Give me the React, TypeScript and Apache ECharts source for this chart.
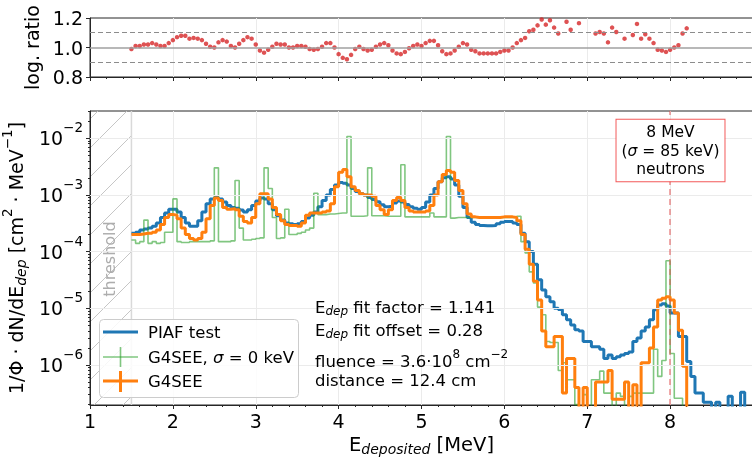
import React, { useEffect, useRef } from "react";
import * as echarts from "echarts";

// ---------- data ----------
const BIN_START = 1.5; // MeV, left edge of first bin (= threshold)
const BIN_WIDTH = 0.05; // MeV
const THRESHOLD = [1.0, 1.5];
const BEAM_ENERGY = 8;
const X_TICKS = [1, 2, 3, 4, 5, 6, 7, 8];
const Y_DECADES = [-6, -5, -4, -3, -2];
const Y_RANGE = [-6.705, -1.52]; // log10 of 1.97e-7 .. 3.0e-2
const RATIO_LINES = [0.9, 1.0, 1.1];

const piafTest = [
  2.1e-4, 2.2e-4, 2.4e-4, 2.5e-4, 2.6e-4, 2.8e-4, 3.2e-4, 4.0e-4, 4.8e-4, 5.6e-4,
  5.6e-4, 5.0e-4, 4.0e-4, 3.2e-4, 2.8e-4, 2.8e-4, 3.5e-4, 5.0e-4, 7.0e-4, 8.5e-4,
  9.0e-4, 8.5e-4, 7.5e-4, 6.5e-4, 6.0e-4, 5.8e-4, 5.4e-4, 5.0e-4, 5.5e-4, 6.5e-4,
  7.8e-4, 8.8e-4, 8.5e-4, 7.0e-4, 5.5e-4, 4.3e-4, 3.6e-4, 3.2e-4, 3.1e-4, 3.0e-4,
  3.1e-4, 3.4e-4, 3.9e-4, 4.4e-4, 5.0e-4, 6.2e-4, 8.0e-4, 1.0e-3, 1.25e-3, 1.5e-3,
  1.65e-3, 1.6e-3, 1.5e-3, 1.3e-3, 1.15e-3, 1.05e-3, 1.0e-3, 9.0e-4, 8.3e-4, 7.6e-4,
  6.7e-4, 6.2e-4, 6.3e-4, 7.2e-4, 7.8e-4, 7.5e-4, 6.8e-4, 6.2e-4, 5.8e-4, 5.6e-4,
  6.0e-4, 7.5e-4, 1.0e-3, 1.3e-3, 1.7e-3, 2.0e-3, 2.1e-3, 1.9e-3, 1.5e-3, 9.5e-4,
  6.0e-4, 4.0e-4, 3.3e-4, 3.0e-4, 2.9e-4, 2.85e-4, 2.85e-4, 2.9e-4, 3.1e-4, 3.3e-4,
  3.4e-4, 3.4e-4, 3.2e-4, 3.0e-4, 2.1e-4, 1.5e-4, 1.0e-4, 6.0e-5, 3.2e-5, 2.1e-5,
  1.6e-5, 1.3e-5, 1.0e-5, 9.5e-6, 7.7e-6, 6.3e-6, 5.1e-6, 4.2e-6, 4.0e-6, 2.6e-6,
  2.6e-6, 2.1e-6, 2.1e-6, 1.9e-6, 1.3e-6, 1.5e-6, 1.3e-6, 1.4e-6, 1.5e-6, 1.6e-6,
  1.7e-6, 2.6e-6, 3.0e-6, 4.0e-6, 4.7e-6, 6.3e-6, 9.4e-6, 1.15e-5, 1.2e-5, 1.1e-5,
  8.3e-6, 8.3e-6, 3.2e-6, 3.2e-6, 1.15e-6, 6.3e-7, 3.2e-7, 3.2e-7, 2.2e-7, 2.2e-7,
  0, 2.2e-7, 0, 0, 2.8e-7, 0, 0, 3.3e-7, 0, 0,
];

const g4seeSigma0 = [
  1.6e-4, 1.4e-4, 1.5e-4, 3.6e-4, 1.4e-4, 1.5e-4, 1.4e-4, 1.45e-4, 2.2e-4, 2.2e-4,
  8.5e-4, 1.5e-4, 1.45e-4, 1.45e-4, 1.5e-4, 1.5e-4, 1.5e-4, 1.5e-4, 1.5e-4, 1.55e-4,
  3.0e-3, 1.5e-4, 1.5e-4, 1.5e-4, 1.55e-4, 1.8e-3, 2.6e-4, 1.6e-4, 1.6e-4, 1.65e-4,
  1.7e-4, 1.75e-4, 3.0e-3, 1.3e-3, 4.0e-4, 1.7e-4, 1.75e-4, 5.6e-4, 2.0e-4, 2.0e-4,
  2.1e-4, 2.2e-4, 2.4e-4, 2.6e-4, 1.07e-3, 4.5e-4, 4.5e-4, 4.6e-4, 4.6e-4, 4.7e-4,
  4.8e-4, 4.8e-4, 1.07e-2, 4.2e-4, 4.2e-4, 4.2e-4, 4.3e-4, 3.0e-3, 4.3e-4, 4.3e-4,
  4.3e-4, 4.2e-4, 4.2e-4, 4.2e-4, 4.2e-4, 3.4e-3, 4.1e-4, 4.1e-4, 4.1e-4, 4.1e-4,
  4.1e-4, 4.1e-4, 4.8e-4, 4.1e-4, 4.1e-4, 4.1e-4, 1.07e-2, 3.9e-4, 4.0e-4, 4.0e-4,
  4.0e-4, 4.0e-4, 4.0e-4, 4.0e-4, 4.0e-4, 4.0e-4, 4.0e-4, 4.0e-4, 4.0e-4, 4.0e-4,
  4.0e-4, 4.0e-4, 4.0e-4, 4.2e-4, 1.5e-4, 9.5e-5, 4.4e-5, 2.8e-5, 1.05e-5, 7.7e-6,
  2.6e-6, 2.5e-6, 2.5e-6, 8.0e-7, 1.1e-6, 5.5e-7, 5.5e-7, 2.0e-7, 0, 3.0e-7,
  0, 5.5e-7, 5.5e-7, 7.8e-7, 3.2e-7, 3.2e-7, 0, 3.2e-7, 2.8e-7, 0,
  2.8e-7, 3.2e-7, 3.2e-7, 3.2e-7, 3.2e-7, 3.2e-7, 1.9e-6, 6.3e-7, 1.2e-6, 6.9e-5,
  1.6e-6, 2.6e-7, 2.6e-7, 0, 0, 0, 0, 0, 0, 0,
  0, 0, 0, 0, 0, 0, 0, 0, 0, 0,
];

const g4see = [
  2.0e-4, 2.0e-4, 2.05e-4, 2.1e-4, 2.1e-4, 2.2e-4, 2.4e-4, 3.0e-4, 4.0e-4, 4.5e-4,
  4.4e-4, 3.8e-4, 2.6e-4, 2.0e-4, 1.7e-4, 1.6e-4, 1.7e-4, 2.2e-4, 3.8e-4, 6.5e-4,
  8.8e-4, 8.0e-4, 6.0e-4, 5.6e-4, 5.7e-4, 5.5e-4, 4.2e-4, 3.4e-4, 3.2e-4, 4.0e-4,
  7.0e-4, 1.05e-3, 1.05e-3, 8.5e-4, 6.0e-4, 4.5e-4, 3.5e-4, 3.0e-4, 2.9e-4, 2.9e-4,
  2.8e-4, 3.2e-4, 4.4e-4, 4.8e-4, 4.8e-4, 4.8e-4, 5.0e-4, 5.2e-4, 7.0e-4, 1.4e-3,
  2.5e-3, 2.8e-3, 2.1e-3, 1.4e-3, 1.2e-3, 1.05e-3, 1.0e-3, 1.0e-3, 9.5e-4, 6.5e-4,
  5.5e-4, 4.5e-4, 5.5e-4, 8.0e-4, 9.0e-4, 8.0e-4, 6.0e-4, 5.2e-4, 5.0e-4, 5.0e-4,
  5.0e-4, 5.2e-4, 6.5e-4, 1.0e-3, 1.7e-3, 2.3e-3, 2.7e-3, 2.5e-3, 1.8e-3, 1.2e-3,
  7.0e-4, 4.6e-4, 4.1e-4, 4.0e-4, 4.0e-4, 4.0e-4, 4.0e-4, 4.0e-4, 4.0e-4, 4.1e-4,
  4.1e-4, 4.1e-4, 4.0e-4, 3.5e-4, 2.0e-4, 1.1e-4, 6.0e-5, 3.0e-5, 1.4e-5, 4.0e-6,
  2.1e-6, 2.1e-6, 3.2e-6, 3.2e-6, 3.2e-7, 1.3e-6, 1.3e-6, 4.0e-7, 0, 4.0e-7,
  0, 0, 5.0e-7, 5.0e-7, 5.0e-7, 8.0e-7, 2.5e-7, 2.5e-7, 2.5e-7, 5.0e-7,
  0, 4.5e-7, 0, 1.1e-6, 1.1e-6, 2.0e-6, 4.7e-6, 1.4e-5, 1.5e-5, 1.6e-5,
  1.4e-5, 8.3e-6, 4.1e-6, 9.5e-7, 0, 0, 0, 0, 0, 0,
  0, 0, 0, 0, 0, 0, 0, 0, 0, 0,
];

const logRatio = [
  0.99, 1.01, 1.01, 1.02, 1.02, 1.03, 1.02, 1.01, 1.01, 1.03,
  1.05, 1.07, 1.08, 1.08, 1.06, 1.065, 1.06, 1.05, 1.025, 1.005,
  1.0, 1.035, 1.05, 1.04, 1.01, 1.0, 1.025, 1.05, 1.07, 1.06,
  1.02, 0.98, 0.965, 0.985, 1.005, 1.025, 1.02, 1.02, 1.0, 1.0,
  1.01, 1.01, 1.005, 0.99, 0.985, 0.99, 1.005, 1.03, 1.03, 1.0,
  0.955, 0.93, 0.92, 0.95, 0.99, 1.005, 0.99, 0.98, 0.985, 1.005,
  1.02, 1.03, 1.015, 0.98, 0.96, 0.955, 0.97, 0.995, 1.01, 1.02,
  1.01, 1.03, 1.045, 1.045, 1.015, 0.975, 0.955, 0.96, 0.98, 1.005,
  1.03, 1.02, 0.985, 0.975, 0.96, 0.96, 0.96, 0.96, 0.96, 0.97,
  0.98, 0.98, 1.0, 1.03, 1.05, 1.065, 1.11, 1.12, 1.15, 1.19,
  1.155, 1.185, 1.135, 1.095, null, 1.175, 1.12, null, 1.165, null,
  null, null, 1.095, 1.105, 1.095, 1.035, 1.135, 1.105, null, 1.06,
  null, 1.085, 1.16, 1.06, 1.09, 1.06, 1.03, 0.985, 0.98, 0.97,
  0.985, 1.0, 1.015, 1.095, 1.13,
];

// ---------- style ----------
const FONT = "DejaVu Sans";
const BLUE = "#1f77b4";
const ORANGE = "#ff7f0e";
const GREEN = "rgba(44,160,44,0.6)";
const RED = "#d62728";
const AXIS = "#262626";
const GRIDC = "#ebebeb";

function stepData(vals: number[]) {
  const pts = vals.map((v, i) => [BIN_START + i * BIN_WIDTH, Math.log10(v > 0 ? v : 1e-9)]);
  pts.push([BIN_START + vals.length * BIN_WIDTH, pts[pts.length - 1][1]]);
  return pts;
}

const minorY: number[] = [];
for (let n = -7; n <= -2; n++) {
  for (let k = 2; k <= 9; k++) {
    const v = n + Math.log10(k);
    if (v > Y_RANGE[0] && v < Y_RANGE[1]) minorY.push(v);
  }
}

export default function App() {
  const ref = useRef<HTMLDivElement>(null);
  useEffect(() => {
    if (!ref.current) return;
    const chart = echarts.init(ref.current, null, { renderer: "svg" });
    const txt = { fontFamily: FONT, color: "#000" };
    const gridBase = { show: true, borderColor: AXIS, borderWidth: 1, backgroundColor: "transparent", containLabel: false, outerBoundsMode: "none" };
    const staticGraphics: any[] = [
      {
        type: "text", z: 100, zlevel: 1, x: 670.5, y: 150.5,
        style: {
          text: "{a|8 MeV}\n{a|(}{i|σ}{a| = 85 keV)}\n{a|neutrons}",
          align: "center", verticalAlign: "middle",
          backgroundColor: "#fff", borderColor: "rgba(240,60,60,0.85)", borderWidth: 1,
          padding: [3, 5, 3, 5],
          rich: {
            a: { fontFamily: FONT, fontSize: 15.5, fill: "#000", lineHeight: 18.5 },
            i: { fontFamily: FONT, fontSize: 15.5, fontStyle: "italic", fill: "#000", lineHeight: 18.5 },
          },
        },
      },
      {
        type: "text", z: 100, zlevel: 1, x: 315, y: 307,
        style: {
          text: "{a|E}{s|dep}{a| fit factor = 1.141}", verticalAlign: "middle",
          rich: {
            a: { fontFamily: FONT, fontSize: 16.5, fill: "#000" },
            s: { fontFamily: FONT, fontSize: 12, fontStyle: "italic", fill: "#000", padding: [8, 0, 0, 0] },
          },
        },
      },
      {
        type: "text", z: 100, zlevel: 1, x: 315, y: 330,
        style: {
          text: "{a|E}{s|dep}{a| fit offset = 0.28}", verticalAlign: "middle",
          rich: {
            a: { fontFamily: FONT, fontSize: 16.5, fill: "#000" },
            s: { fontFamily: FONT, fontSize: 12, fontStyle: "italic", fill: "#000", padding: [8, 0, 0, 0] },
          },
        },
      },
      {
        type: "text", z: 100, zlevel: 1, x: 315, y: 361,
        style: {
          text: "{a|fluence = 3.6·10}{p|8}{a| cm}{p|−2}", verticalAlign: "middle",
          rich: {
            a: { fontFamily: FONT, fontSize: 16.5, fill: "#000" },
            p: { fontFamily: FONT, fontSize: 12, fill: "#000", padding: [0, 0, 14, 0] },
          },
        },
      },
      {
        type: "text", z: 100, zlevel: 1, x: 315, y: 380,
        style: { text: "distance = 12.4 cm", verticalAlign: "middle", fontFamily: FONT, fontSize: 16.5, fill: "#000" },
      },
      {
        type: "group", z: 100, zlevel: 1,
        children: [
          { type: "rect", z: 100, zlevel: 1, shape: { x: 99.5, y: 319.5, width: 199, height: 78, r: 4 }, style: { fill: "rgba(255,255,255,0.85)", stroke: "#cccccc", lineWidth: 1 } },
          { type: "line", z: 101, zlevel: 1, shape: { x1: 103, y1: 332, x2: 138, y2: 332 }, style: { stroke: BLUE, lineWidth: 3 } },
          { type: "text", z: 101, zlevel: 1, x: 148, y: 332, style: { text: "PIAF test", fontFamily: FONT, fontSize: 16.5, fill: "#000", verticalAlign: "middle" } },
          { type: "line", z: 101, zlevel: 1, shape: { x1: 103, y1: 357, x2: 138, y2: 357 }, style: { stroke: GREEN, lineWidth: 1.6 } },
          { type: "line", z: 101, zlevel: 1, shape: { x1: 120.5, y1: 347, x2: 120.5, y2: 367 }, style: { stroke: GREEN, lineWidth: 1.6 } },
          {
            type: "text", z: 101, zlevel: 1, x: 148, y: 357,
            style: {
              text: "{a|G4SEE, }{i|σ}{a| = 0 keV}", verticalAlign: "middle",
              rich: {
                a: { fontFamily: FONT, fontSize: 16.5, fill: "#000" },
                i: { fontFamily: FONT, fontSize: 16.5, fontStyle: "italic", fill: "#000" },
              },
            },
          },
          { type: "line", z: 101, zlevel: 1, shape: { x1: 103, y1: 381, x2: 138, y2: 381 }, style: { stroke: ORANGE, lineWidth: 3 } },
          { type: "line", z: 101, zlevel: 1, shape: { x1: 120.5, y1: 371, x2: 120.5, y2: 392 }, style: { stroke: ORANGE, lineWidth: 3 } },
          { type: "text", z: 101, zlevel: 1, x: 148, y: 381, style: { text: "G4SEE", fontFamily: FONT, fontSize: 16.5, fill: "#000", verticalAlign: "middle" } },
        ],
      },
    ];
    const option: any = {
      animation: false,
      grid: [
        { ...gridBase, left: 90, top: 18, width: 663, height: 59 },
        { ...gridBase, left: 90, top: 111, width: 663, height: 294 },
      ],
      xAxis: [
        {
          gridIndex: 0, type: "value", min: 1, max: 9, interval: 1,
          axisLine: { lineStyle: { color: AXIS } },
          axisTick: { length: 4, lineStyle: { color: AXIS } },
          minorTick: { show: true, splitNumber: 5, length: 2, lineStyle: { color: AXIS } },
          axisLabel: { show: false },
          splitLine: { show: true, lineStyle: { color: GRIDC } },
        },
        {
          gridIndex: 1, type: "value", min: 1, max: 9, interval: 1,
          axisLine: { lineStyle: { color: AXIS } },
          axisTick: { length: 4, lineStyle: { color: AXIS } },
          minorTick: { show: true, splitNumber: 5, length: 2, lineStyle: { color: AXIS } },
          axisLabel: { ...txt, fontSize: 19, margin: 6, formatter: (v: number) => (X_TICKS.includes(v) ? String(v) : "") },
          splitLine: { show: true, lineStyle: { color: GRIDC } },
          name: "{a|E}{s|deposited}{a| [MeV]}",
          nameLocation: "middle",
          nameGap: 21,
          nameTextStyle: {
            rich: {
              a: { fontFamily: FONT, fontSize: 19.5, color: "#000" },
              s: { fontFamily: FONT, fontSize: 14, fontStyle: "italic", color: "#000", padding: [8, 0, 0, 0] },
            },
          },
        },
      ],
      yAxis: [
        {
          gridIndex: 0, type: "value", min: 0.8, max: 1.2, interval: 0.2,
          axisLine: { show: true, lineStyle: { color: AXIS } },
          axisTick: { show: true, length: 4, lineStyle: { color: AXIS } },
          axisLabel: { ...txt, fontSize: 19, margin: 7, formatter: (v: number) => v.toFixed(1) },
          splitLine: { show: false },
          name: "log. ratio",
          nameLocation: "middle",
          nameRotate: 90,
          nameGap: 44,
          nameTextStyle: { fontFamily: FONT, fontSize: 19, color: "#000" },
        },
        {
          gridIndex: 1, type: "value", position: "left", min: Y_RANGE[0], max: Y_RANGE[1],
          axisLine: { show: true, lineStyle: { color: AXIS } },
          axisTick: { show: true, length: 4, customValues: Y_DECADES, lineStyle: { color: AXIS } },
          axisLabel: {
            customValues: Y_DECADES,
            margin: 7,
            formatter: (v: number) => `{b|10}{s|−${Math.round(-v)}}`,
            rich: {
              b: { fontFamily: FONT, fontSize: 19, color: "#000" },
              s: { fontFamily: FONT, fontSize: 13.5, color: "#000", padding: [0, 0, 22, 0] },
            },
          },
          splitLine: { show: false },
          name: "{a|1/Φ · dN/dE}{s|dep}{a| [cm}{p|2}{a| · MeV}{p|−1}{a|]}",
          nameLocation: "middle",
          nameRotate: 90,
          nameGap: 55,
          nameTextStyle: {
            rich: {
              a: { fontFamily: FONT, fontSize: 19, color: "#000" },
              s: { fontFamily: FONT, fontSize: 14, fontStyle: "italic", color: "#000", padding: [10, 0, 0, 0] },
              p: { fontFamily: FONT, fontSize: 13.5, color: "#000", padding: [0, 0, 18, 0] },
            },
          },
        },
        {
          gridIndex: 1, type: "value", position: "left", offset: 0, min: Y_RANGE[0], max: Y_RANGE[1],
          axisLine: { show: false },
          axisTick: { show: true, length: 2, customValues: minorY, lineStyle: { color: AXIS } },
          axisLabel: { show: false },
          splitLine: { show: false },
        },
      ],
      series: [
        {
          type: "line", xAxisIndex: 0, yAxisIndex: 0, z: 1, silent: true,
          data: [[0, 0]], symbol: "none", lineStyle: { opacity: 0 },
          markLine: {
            silent: true, symbol: ["none", "none"], label: { show: false },
            data: RATIO_LINES.map((v) => ({
              yAxis: v,
              lineStyle: v === 1 ? { color: "#a0a0a0", width: 1.5, type: "solid" } : { color: "#8c8c8c", width: 1.2, type: [5, 3] },
            })),
          },
        },
        {
          name: "log. ratio", type: "scatter", xAxisIndex: 0, yAxisIndex: 0, z: 3,
          symbolSize: 4.5, itemStyle: { color: RED },
          data: logRatio.map((r, i) => [BIN_START + i * BIN_WIDTH, r]).filter((p) => p[1] !== null),
        },
        {
          type: "line", xAxisIndex: 1, yAxisIndex: 1, z: 1, silent: true,
          data: [[0, -10]], symbol: "none", lineStyle: { opacity: 0 },
          markLine: {
            silent: true, symbol: ["none", "none"], label: { show: false },
            lineStyle: { color: GRIDC, width: 1, type: "solid" },
            data: Y_DECADES.map((v) => ({ yAxis: v })),
          },
        },
        {
          name: "PIAF test", type: "line", xAxisIndex: 1, yAxisIndex: 1, z: 2,
          step: "end", symbol: "none", data: stepData(piafTest),
          lineStyle: { color: BLUE, width: 3 },
        },
        {
          name: "G4SEE, σ = 0 keV", type: "line", xAxisIndex: 1, yAxisIndex: 1, z: 3,
          step: "end", symbol: "none", data: stepData(g4seeSigma0),
          lineStyle: { color: GREEN, width: 1.6 },
        },
        {
          name: "G4SEE", type: "line", xAxisIndex: 1, yAxisIndex: 1, z: 4,
          step: "end", symbol: "none", data: stepData(g4see),
          lineStyle: { color: ORANGE, width: 3 },
        },
        {
          type: "line", xAxisIndex: 1, yAxisIndex: 1, z: 5, silent: true,
          data: [[0, -10]], symbol: "none", lineStyle: { opacity: 0 },
          markLine: {
            silent: true, symbol: ["none", "none"], label: { show: false },
            lineStyle: { color: "rgba(225,80,80,0.65)", width: 1.5, type: [6, 4] },
            data: [{ xAxis: BEAM_ENERGY }],
          },
        },
      ],
      graphic: { elements: staticGraphics },
    };
    chart.setOption(option);

    // threshold region (hatched), placed through the axis scales
    const a = chart.convertToPixel({ gridIndex: 1 }, [THRESHOLD[0], Y_RANGE[1]]) as number[];
    const b = chart.convertToPixel({ gridIndex: 1 }, [THRESHOLD[1], Y_RANGE[0]]) as number[];
    const left = a[0], top = a[1], right = b[0], bottom = b[1];
    const hatch: any[] = [];
    const step = 29;
    for (let c = left + top + 8; c < right + bottom; c += step) {
      const xs = Math.max(left, c - bottom);
      const xe = Math.min(right, c - top);
      if (xe > xs) {
        hatch.push({
          type: "polyline", z: 0, silent: true,
          shape: { points: [[xs, c - xs], [xe, c - xe]] },
          style: { stroke: "#c6c6c6", lineWidth: 1, fill: null },
        });
      }
    }
    hatch.push({
      type: "line", z: 0, silent: true,
      shape: { x1: right, y1: top, x2: right, y2: bottom },
      style: { stroke: "#d9d9d9", lineWidth: 1.5 },
    });
    hatch.push({
      type: "text", z: 1, silent: true,
      x: (left + right) / 2 - 1, y: (top + bottom) / 2 + 1, rotation: Math.PI / 2,
      style: { text: "threshold", fontFamily: FONT, fontSize: 16, fill: "#adadad", align: "center", verticalAlign: "middle" },
    });
    chart.setOption({ graphic: { elements: [...staticGraphics, ...hatch] } });

    return () => chart.dispose();
  }, []);
  return <div ref={ref} style={{ position: "fixed", left: 0, top: 0, width: 752, height: 458 }} />;
}
